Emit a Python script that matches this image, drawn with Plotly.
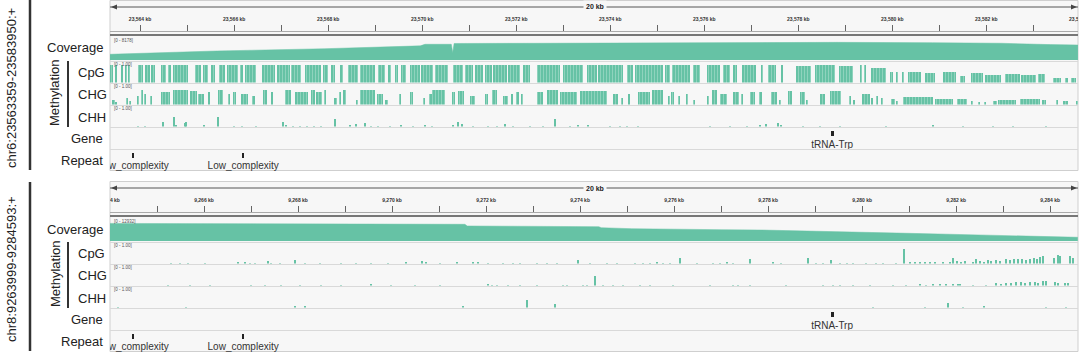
import plotly.graph_objects as go

# ---------------- regions & ruler ----------------
top_chrom, top_start, top_end = "chr6", 23563359, 23583950
bot_chrom, bot_start, bot_end = "chr8", 9263999, 9284593
span_label = "20 kb"

top_tick_kb = [23564, 23566, 23568, 23570, 23572, 23574, 23576, 23578, 23580, 23582, 23584]
top_tick_labels = ["23,564 kb", "23,566 kb", "23,568 kb", "23,570 kb", "23,572 kb", "23,574 kb",
                   "23,576 kb", "23,578 kb", "23,580 kb", "23,582 kb", "23,584 kb"]
bot_tick_kb = [9264, 9266, 9268, 9270, 9272, 9274, 9276, 9278, 9280, 9282, 9284]
bot_tick_labels = ["9,264 kb", "9,266 kb", "9,268 kb", "9,270 kb", "9,272 kb", "9,274 kb",
                   "9,276 kb", "9,278 kb", "9,280 kb", "9,282 kb", "9,284 kb"]

track_labels = ["Coverage", "CpG", "CHG", "CHH", "Gene", "Repeat"]
top_cov_range = "[0 - 8178]"
bot_cov_range = "[0 - 12932]"
meth_range = "[0 - 1.00]"

# ---------------- coverage (offset kb from region start, depth) ----------------
top_cov_kb = [0.00, 2.26, 4.57, 6.45, 6.60, 6.70, 7.26, 7.29, 7.32, 9.00, 11.00, 13.72, 15.50, 17.50, 18.94, 20.00, 20.59]
top_cov = [2520, 3980, 4990, 5900, 6250, 6940, 6940, 3230, 7300, 7380, 7500, 7960, 7800, 7650, 7400, 6800, 6630]

bot_cov_kb = [0.00, 1.50, 3.00, 4.50, 6.00, 6.90, 7.55, 7.60, 10.40, 10.45, 11.10, 13.00, 13.83, 16.98, 18.50, 20.59]
bot_cov = [12300, 12200, 12370, 12100, 12000, 11700, 11670, 10490, 10000, 9300, 8600, 7900, 7690, 5380, 4000, 2600]

# ---------------- methylation, top region (intervals: start kb, end kb, level) ----------------
top_cpg = [(0.02, 0.06, 1), (0.11, 0.15, 1), (0.23, 0.28, 1), (0.34, 0.37, 1), (0.40, 0.43, 1),
           (0.60, 0.70, 1), (0.74, 0.85, 1), (0.87, 0.96, 1), (1.09, 1.19, 1), (1.23, 1.30, 1), (1.34, 1.66, 1),
           (1.81, 1.93, 1), (1.97, 2.09, 1), (2.15, 2.23, 1), (2.32, 2.45, 1), (2.49, 2.72, 1), (2.77, 2.83, 1),
           (2.87, 3.11, 1), (3.23, 3.51, 1), (3.55, 3.83, 1), (3.85, 4.06, 1), (4.15, 4.49, 1), (4.53, 4.64, 1),
           (4.70, 4.79, 1), (4.89, 4.96, 1), (5.06, 5.28, 1), (5.32, 5.64, 1), (5.70, 5.85, 1), (5.91, 5.98, 1),
           (6.06, 6.13, 1), (6.19, 6.30, 1), (6.38, 6.60, 1), (6.62, 6.87, 1),
           (6.91, 7.19, 1), (7.30, 7.51, 1), (7.55, 7.72, 1), (7.77, 7.94, 1), (7.98, 8.13, 1), (8.15, 8.45, 1),
           (8.47, 8.72, 1), (8.79, 8.94, 1), (9.09, 9.57, 1), (9.64, 10.06, 1), (10.15, 10.36, 1), (10.38, 10.91, 1),
           (11.00, 11.13, 1), (11.17, 11.77, 1), (11.81, 11.91, 1), (11.96, 12.34, 1), (12.40, 12.55, 1),
           (12.70, 12.98, 1), (13.04, 13.19, 1), (13.26, 13.34, 1), (13.45, 13.74, 1),
           (13.85, 13.89, 1), (14.00, 14.17, 1), (14.28, 14.30, 1), (14.60, 14.91, 0.95), (15.00, 15.43, 1),
           (15.51, 15.81, 0.95), (15.96, 15.98, 1), (16.06, 16.09, 1), (16.19, 16.51, 0.85), (16.60, 16.66, 0.6),
           (16.72, 16.77, 0.6), (16.85, 16.89, 0.6), (16.98, 17.26, 0.6), (17.34, 17.55, 0.55), (17.72, 18.00, 0.6),
           (18.09, 18.19, 0.4), (18.32, 18.57, 0.55), (18.62, 18.96, 0.45), (19.04, 19.36, 0.5), (19.38, 19.70, 0.45),
           (19.74, 19.89, 0.5), (20.06, 20.23, 0.3), (20.32, 20.38, 0.3), (20.45, 20.55, 0.3)]

top_chg = [(0.06, 0.10, 0.3), (0.11, 0.13, 0.15), (0.35, 0.38, 0.4), (0.42, 0.44, 0.2), (0.58, 0.61, 0.5),
           (0.67, 0.70, 0.8), (0.74, 0.77, 0.6), (0.87, 0.89, 0.5), (1.09, 1.27, 0.7), (1.34, 1.66, 0.8),
           (1.70, 1.84, 0.75), (1.87, 2.01, 0.6), (2.09, 2.12, 0.7), (2.30, 2.40, 0.8), (2.51, 2.55, 0.6),
           (2.62, 2.69, 0.7), (2.79, 2.94, 0.6), (3.01, 3.08, 0.5), (3.26, 3.33, 0.8), (3.43, 3.47, 0.7),
           (3.72, 3.86, 0.8), (3.93, 4.21, 0.7), (4.28, 4.36, 0.8), (4.39, 4.50, 0.7), (4.57, 4.60, 0.8),
           (4.78, 4.82, 0.4), (4.89, 4.92, 0.7), (4.96, 5.01, 0.8), (5.24, 5.28, 0.3), (5.31, 5.63, 0.8),
           (5.67, 5.81, 0.6), (5.84, 5.91, 0.3), (6.16, 6.20, 0.6), (6.38, 6.45, 0.7), (6.66, 6.70, 0.4),
           (6.80, 6.84, 0.6), (6.86, 7.13, 0.8), (7.27, 7.34, 0.7), (7.41, 7.52, 0.75), (7.66, 7.77, 0.5),
           (7.98, 8.05, 0.6), (8.12, 8.23, 0.8), (8.37, 8.47, 0.5), (8.55, 8.58, 0.6), (8.65, 8.69, 0.7),
           (8.76, 8.79, 0.6), (9.08, 9.22, 0.7), (9.29, 9.54, 0.8), (9.57, 9.93, 0.7), (10.00, 10.57, 0.75),
           (10.71, 10.81, 0.6), (10.89, 10.92, 0.4), (11.03, 11.06, 0.6), (11.24, 11.49, 0.7), (11.53, 11.77, 0.8),
           (11.88, 11.91, 0.5), (11.95, 11.99, 0.7), (12.09, 12.13, 0.5), (12.27, 12.30, 0.6), (12.41, 12.45, 0.3),
           (12.70, 12.73, 0.5), (12.80, 12.91, 0.8), (12.98, 13.12, 0.6), (13.26, 13.37, 0.7), (13.44, 13.47, 0.6),
           (13.62, 13.72, 0.7), (13.82, 13.86, 0.7), (14.07, 14.18, 0.7), (14.25, 14.28, 0.3), (14.43, 14.50, 0.75),
           (14.67, 14.78, 0.7), (14.82, 14.85, 0.3), (15.10, 15.21, 0.6), (15.31, 15.56, 0.75), (15.74, 15.77, 0.5),
           (15.81, 15.84, 0.3), (15.99, 16.16, 0.6), (16.20, 16.23, 0.4), (16.30, 16.34, 0.5), (16.41, 16.45, 0.4),
           (16.62, 16.70, 0.35), (16.73, 16.77, 0.2), (16.87, 17.51, 0.45), (17.55, 17.94, 0.35), (18.01, 18.22, 0.35),
           (18.33, 18.36, 0.2), (18.47, 18.50, 0.15), (18.61, 18.64, 0.15), (18.79, 18.86, 0.2), (18.89, 19.28, 0.3),
           (19.36, 19.78, 0.35), (19.82, 19.92, 0.3), (20.13, 20.17, 0.3), (20.28, 20.38, 0.2), (20.56, 20.59, 0.2)]

top_chh_kb = [0.60, 0.75, 1.13, 1.36, 1.41, 1.59, 1.62, 2.01, 2.30, 2.65, 2.80, 3.10, 3.68, 3.75, 3.90, 4.05,
              4.20, 4.35, 4.50, 4.78, 5.10, 5.24, 5.42, 5.55, 5.70, 5.95, 6.20, 6.45, 6.70, 6.85, 7.30, 7.41,
              7.49, 7.72, 8.04, 8.23, 8.40, 8.57, 8.94, 9.21, 9.47, 9.79, 9.96, 10.17, 10.64, 10.85, 11.00,
              11.23, 12.77, 13.19, 13.55, 13.83, 13.96, 14.21, 14.28, 14.74, 15.11, 15.53, 16.51, 17.51,
              18.15, 18.79, 19.21, 19.91]
top_chh = [0.03, 0.03, 0.25, 0.55, 0.12, 0.2, 0.25, 0.08, 0.55, 0.05, 0.04, 0.03, 0.25, 0.08, 0.05, 0.05,
           0.05, 0.05, 0.04, 0.45, 0.1, 0.15, 0.2, 0.04, 0.04, 0.05, 0.1, 0.04, 0.08, 0.05, 0.1, 0.3,
           0.15, 0.05, 0.05, 0.05, 0.15, 0.05, 0.05, 0.05, 0.42, 0.05, 0.08, 0.08, 0.05, 0.05, 0.05,
           0.05, 0.05, 0.05, 0.05, 0.12, 0.15, 0.2, 0.1, 0.05, 0.04, 0.04, 0.04, 0.08,
           0.05, 0.05, 0.04, 0.04]

# ---------------- methylation, bottom region (site kb, level) ----------------
bot_cpg_kb = [1.30, 1.49, 1.66, 2.02, 2.72, 2.87, 2.98, 3.09, 3.36, 3.43, 3.62, 3.94, 4.15, 4.47, 4.91, 5.23,
              5.55, 5.91, 6.30, 6.64, 6.72, 7.02, 7.38, 7.72, 7.83, 8.04, 8.36, 8.57, 8.72, 9.09, 9.30, 9.51,
              9.96, 10.21, 10.57, 10.79, 11.17, 11.34, 11.49, 11.64, 11.77, 11.91, 12.13, 12.49, 12.83, 12.98,
              13.13, 13.26, 13.62, 14.11, 14.28, 14.85, 15.02, 15.17, 15.34, 15.53, 15.68, 15.81, 16.09, 16.30,
              16.45, 16.72, 16.89, 17.02, 17.13, 17.23, 17.34, 17.45, 17.55, 17.72, 17.87, 17.94, 18.02, 18.11,
              18.19, 18.36, 18.43, 18.51, 18.60, 18.68, 18.74, 18.85, 18.94, 19.06, 19.15, 19.23, 19.32, 19.40,
              19.49, 19.57, 19.66, 19.72, 19.79, 19.85, 20.09, 20.17, 20.21, 20.43, 20.49]
bot_cpg = [0.03, 0.03, 0.03, 0.03, 0.08, 0.1, 0.03, 0.03, 0.15, 0.05, 0.05, 0.2, 0.03, 0.03, 0.03, 0.05,
           0.03, 0.03, 0.08, 0.15, 0.12, 0.03, 0.08, 0.1, 0.08, 0.03, 0.03, 0.03, 0.03, 0.03, 0.03, 0.03,
           0.2, 0.03, 0.03, 0.03, 0.05, 0.05, 0.05, 0.06, 0.03, 0.03, 0.35, 0.03, 0.05, 0.05,
           0.08, 0.05, 0.25, 0.08, 0.05, 0.35, 0.05, 0.05, 0.2, 0.05, 0.05, 0.05, 0.03, 0.05,
           0.05, 0.05, 0.85, 0.08, 0.06, 0.08, 0.1, 0.06, 0.08, 0.1, 0.1, 0.35, 0.15, 0.12,
           0.15, 0.1, 0.3, 0.15, 0.12, 0.2, 0.15, 0.2, 0.18, 0.25, 0.22, 0.28, 0.25, 0.25,
           0.22, 0.3, 0.35, 0.3, 0.4, 0.45, 0.35, 0.5, 0.45, 0.45, 0.35]

bot_chg_kb = [1.23, 1.70, 2.13, 3.00, 3.30, 3.64, 4.04, 4.49, 4.91, 5.55, 5.98, 6.49, 7.02, 8.04, 8.13, 8.23,
              8.47, 8.72, 9.09, 9.64, 9.72, 10.06, 10.15, 10.32, 10.49, 10.70, 10.91, 11.28, 11.49, 11.98,
              12.77, 13.26, 13.36, 13.62, 14.38, 15.17, 15.38, 15.53, 15.81, 16.17, 16.66, 16.94, 17.23,
              17.36, 17.51, 17.66, 17.79, 17.94, 18.04, 18.09, 18.36, 18.64, 18.85, 18.96, 19.06, 19.17,
              19.28, 19.38, 19.47, 19.57, 19.68, 19.74, 19.85, 19.91, 20.11, 20.17, 20.32, 20.38]
bot_chg = [0.02, 0.02, 0.02, 0.02, 0.02, 0.02, 0.03, 0.02, 0.02, 0.06, 0.02, 0.02, 0.03, 0.12, 0.05, 0.04,
           0.03, 0.03, 0.03, 0.03, 0.03, 0.04, 0.05, 0.55, 0.03, 0.03, 0.03, 0.03, 0.03, 0.03,
           0.03, 0.05, 0.04, 0.03, 0.03, 0.04, 0.05, 0.05, 0.04, 0.05, 0.04, 0.04, 0.06,
           0.05, 0.06, 0.07, 0.06, 0.06, 0.1, 0.08, 0.05, 0.05, 0.15, 0.12, 0.18, 0.15,
           0.2, 0.2, 0.18, 0.22, 0.2, 0.18, 0.25, 0.3, 0.2, 0.15, 0.18, 0.15]

bot_chh_kb = [0.17, 1.62, 3.94, 4.15, 7.51, 8.87, 9.47, 16.23, 17.34, 17.83, 18.15, 18.60, 19.91, 20.34]
bot_chh = [0.02, 0.02, 0.12, 0.1, 0.06, 0.45, 0.2, 0.02, 0.02, 0.3, 0.02, 0.1, 0.02, 0.04]

# ---------------- annotation features (same offsets in both regions) ----------------
gene_kb = [15.33]
gene_len_kb = [0.065]
gene_names = ["tRNA-Trp"]
repeat_kb = [0.48, 2.81]
repeat_len_kb = [0.025, 0.045]
repeat_names = ["Low_complexity", "Low_complexity"]

# ---------------- styling / layout ----------------
GREEN = "#66c2a5"
PANEL_BG = "#f7f7f7"
SEP = "#d9d9d9"
W, H = 1080, 354
XL, XR = 110, 1078
OFF = 181
FONT = "Liberation Sans, Arial, sans-serif"

# (key, top px, bottom px) in the top panel
tracks = [("ruler", 13.5, 30.5), ("cov", 39, 60), ("cpg", 62.5, 82.5), ("chg", 84.5, 104.5),
          ("chh", 106.5, 126.5), ("gene", 128, 149), ("rep", 150, 172.5)]

panels = [
    dict(chrom=top_chrom, start=top_start, end=top_end, tick_kb=top_tick_kb, tick_labels=top_tick_labels,
         cov_kb=top_cov_kb, cov=top_cov, cov_top=9282, cov_range=top_cov_range,
         cpg=top_cpg, chg=top_chg, chh=list(zip(top_chh_kb, top_chh))),
    dict(chrom=bot_chrom, start=bot_start, end=bot_end, tick_kb=bot_tick_kb, tick_labels=bot_tick_labels,
         cov_kb=bot_cov_kb, cov=bot_cov, cov_top=14680, cov_range=bot_cov_range,
         cpg=list(zip(bot_cpg_kb, bot_cpg)), chg=list(zip(bot_chg_kb, bot_chg)),
         chh=list(zip(bot_chh_kb, bot_chh))),
]


def px_x(v):
    return v / W


def px_y(v):
    return 1 - v / H


def refs(n):
    return ("x", "y") if n == 1 else (f"x{n}", f"y{n}")


def keys(n):
    return ("xaxis", "yaxis") if n == 1 else (f"xaxis{n}", f"yaxis{n}")


fig = go.Figure()
layout = dict(width=W, height=H, margin=dict(l=0, r=0, t=0, b=0), showlegend=False,
              paper_bgcolor="white", plot_bgcolor="rgba(0,0,0,0)", bargap=0,
              font=dict(family=FONT, color="#1a1a1a"))
shapes, annotations = [], []

stripe = dict(shape="|", fillmode="overlay", fgcolor="white", fgopacity=0.3, size=3, solidity=0.3)

for p, P in enumerate(panels):
    off = p * OFF
    start, end = P["start"], P["end"]
    n0 = p * 7

    def bp(kb):
        return start + kb * 1000.0

    for t, (key, top, bot) in enumerate(tracks):
        n = n0 + t + 1
        xk, yk = keys(n)
        xr, yr = refs(n)
        xa = dict(domain=[px_x(XL), px_x(XR)], range=[start, end], anchor=yr, fixedrange=True,
                  showgrid=False, zeroline=False, showline=False)
        if key == "ruler":
            ticks = sorted(set([k * 1000 for k in P["tick_kb"]] + [(k + 1) * 1000 for k in P["tick_kb"]]))
            xa.update(visible=True, ticks="inside", tickvals=ticks, ticklen=6, tickwidth=1,
                      tickcolor="#666", showticklabels=False)
        else:
            xa.update(visible=False)
        yrange = {"ruler": [0, 1], "cov": [0, P["cov_top"]], "cpg": [0, 1.1], "chg": [0, 1.1],
                  "chh": [0, 1.1], "gene": [0, 1], "rep": [0, 1]}[key]
        ya = dict(domain=[max(px_y(bot + off), 0), px_y(top + off)], range=yrange, anchor=xr,
                  visible=False, fixedrange=True)
        layout[xk] = xa
        layout[yk] = ya

        if key == "ruler":
            fig.add_trace(go.Scatter(x=[k * 1000 for k in P["tick_kb"]], y=[0.62] * len(P["tick_kb"]),
                                     text=P["tick_labels"], mode="text", xaxis=xr, yaxis=yr,
                                     textfont=dict(size=5, color="#333", weight="bold"),
                                     cliponaxis=True, hoverinfo="skip"))
            # span arrow line across the region
            shapes.append(dict(type="line", xref=xr, yref="paper", x0=start, x1=end,
                               y0=px_y(7 + off), y1=px_y(7 + off), line=dict(color="#555", width=1)))
        elif key == "cov":
            fig.add_trace(go.Scatter(x=[bp(k) for k in P["cov_kb"]], y=P["cov"], mode="lines",
                                     fill="tozeroy", fillcolor=GREEN, line=dict(color=GREEN, width=0.5),
                                     xaxis=xr, yaxis=yr, hoverinfo="skip"))
        elif key in ("cpg", "chg", "chh"):
            data = P[key]
            if data and len(data[0]) == 3:
                xs = [bp((s + e) / 2) for s, e, v in data]
                ws = [max((e - s) * 1000.0, 25) for s, e, v in data]
                ys = [v for s, e, v in data]
                marker = dict(color=GREEN, line=dict(width=0), pattern=stripe)
            else:
                xs = [bp(k) for k, v in data]
                ws = [25] * len(data)
                ys = [v for k, v in data]
                marker = dict(color=GREEN, line=dict(width=0))
            fig.add_trace(go.Bar(x=xs, y=ys, width=ws, marker=marker, xaxis=xr, yaxis=yr,
                                 hoverinfo="skip"))
        elif key == "gene":
            fig.add_trace(go.Bar(x=[bp(k + l / 2) for k, l in zip(gene_kb, gene_len_kb)],
                                 y=[0.24] * len(gene_kb), base=[0.62] * len(gene_kb),
                                 width=[l * 1000 for l in gene_len_kb],
                                 marker=dict(color="#222", line=dict(width=0)), xaxis=xr, yaxis=yr,
                                 hoverinfo="skip"))
            fig.add_trace(go.Scatter(x=[bp(k + l / 2) for k, l in zip(gene_kb, gene_len_kb)],
                                     y=[0.17] * len(gene_kb), text=gene_names, mode="text",
                                     textfont=dict(size=10, color="#333"), xaxis=xr, yaxis=yr,
                                     cliponaxis=True, hoverinfo="skip"))
        elif key == "rep":
            fig.add_trace(go.Bar(x=[bp(k + l / 2) for k, l in zip(repeat_kb, repeat_len_kb)],
                                 y=[0.22] * len(repeat_kb), base=[0.645] * len(repeat_kb),
                                 width=[l * 1000 for l in repeat_len_kb],
                                 marker=dict(color="#222", line=dict(width=0)), xaxis=xr, yaxis=yr,
                                 hoverinfo="skip"))
            fig.add_trace(go.Scatter(x=[bp(k + l / 2) for k, l in zip(repeat_kb, repeat_len_kb)],
                                     y=[0.25] * len(repeat_kb), text=repeat_names, mode="text",
                                     textfont=dict(size=10, color="#333"), xaxis=xr, yaxis=yr,
                                     cliponaxis=True, hoverinfo="skip"))

    # panel background and separators
    shapes.append(dict(type="rect", xref="paper", yref="paper", x0=px_x(XL), x1=px_x(XR),
                       y0=px_y(min(170.5 + off, H)), y1=px_y(0.5 + off), fillcolor=PANEL_BG,
                       line=dict(color="#cfcfcf", width=1), layer="below"))
    for yy, col, wd in [(31.5, "#aaaaaa", 1), (35, "#777777", 2)]:
        shapes.append(dict(type="line", xref="paper", yref="paper", x0=px_x(XL), x1=px_x(XR),
                           y0=px_y(yy + off), y1=px_y(yy + off), line=dict(color=col, width=wd)))
    for yy in [61.5, 83.5, 105.5, 127.5, 149.5]:
        shapes.append(dict(type="line", xref="paper", yref="paper", x0=px_x(XL), x1=px_x(XR),
                           y0=px_y(yy + off), y1=px_y(yy + off), line=dict(color=SEP, width=1)))
    # arrow heads of the span line
    ay = 7 + off
    shapes.append(dict(type="path", xref="paper", yref="paper", fillcolor="#444", line=dict(width=0),
                       path=f"M {px_x(111)} {px_y(ay)} L {px_x(117)} {px_y(ay - 2.5)} L {px_x(117)} {px_y(ay + 2.5)} Z"))
    shapes.append(dict(type="path", xref="paper", yref="paper", fillcolor="#444", line=dict(width=0),
                       path=f"M {px_x(1077)} {px_y(ay)} L {px_x(1071)} {px_y(ay - 2.5)} L {px_x(1071)} {px_y(ay + 2.5)} Z"))
    # left black bar and methylation bracket
    shapes.append(dict(type="line", xref="paper", yref="paper", x0=px_x(30), x1=px_x(30),
                       y0=px_y(min(170 + off, H)), y1=px_y(off + (0 if p == 0 else 1)),
                       line=dict(color="#333", width=2.5)))
    shapes.append(dict(type="line", xref="paper", yref="paper", x0=px_x(68), x1=px_x(68),
                       y0=px_y(127 + off), y1=px_y(61 + off), line=dict(color="#333", width=2)))

    # texts
    annotations.append(dict(text=span_label, x=px_x(595), y=px_y(7 + off), xref="paper", yref="paper",
                            showarrow=False, font=dict(size=7, color="#222", weight="bold"),
                            bgcolor=PANEL_BG, borderpad=2, xanchor="center", yanchor="middle"))
    annotations.append(dict(text=f"{P['chrom']}:{start}-{end}:+", x=px_x(11), y=px_y(88 + off),
                            xref="paper", yref="paper", showarrow=False, textangle=-90,
                            font=dict(size=13, color="#222"), xanchor="center", yanchor="middle"))
    annotations.append(dict(text="Methylation", x=px_x(55), y=px_y(93 + off), xref="paper", yref="paper",
                            showarrow=False, textangle=-90, font=dict(size=13, color="#222"),
                            xanchor="center", yanchor="middle"))
    label_pos = [(105, 48, "right"), (76, 72, "left"), (76, 94, "left"), (76, 117, "left"),
                 (105, 138, "right"), (105, 160, "right")]
    for name, (lx, ly, anc) in zip(track_labels, label_pos):
        annotations.append(dict(text=name, x=px_x(lx), y=px_y(ly + off), xref="paper", yref="paper",
                                showarrow=False, font=dict(size=13, color="#222"), xanchor=anc,
                                yanchor="middle"))
    for txt, ly in [(P["cov_range"], 40.5), (meth_range, 64), (meth_range, 86), (meth_range, 108)]:
        annotations.append(dict(text=txt, x=px_x(112), y=px_y(ly + off), xref="paper", yref="paper",
                                showarrow=False, font=dict(size=4.5, color="#555"), xanchor="left",
                                yanchor="middle"))

layout["shapes"] = shapes
layout["annotations"] = annotations
fig.update_layout(**layout)
fig.write_html("out.html")
